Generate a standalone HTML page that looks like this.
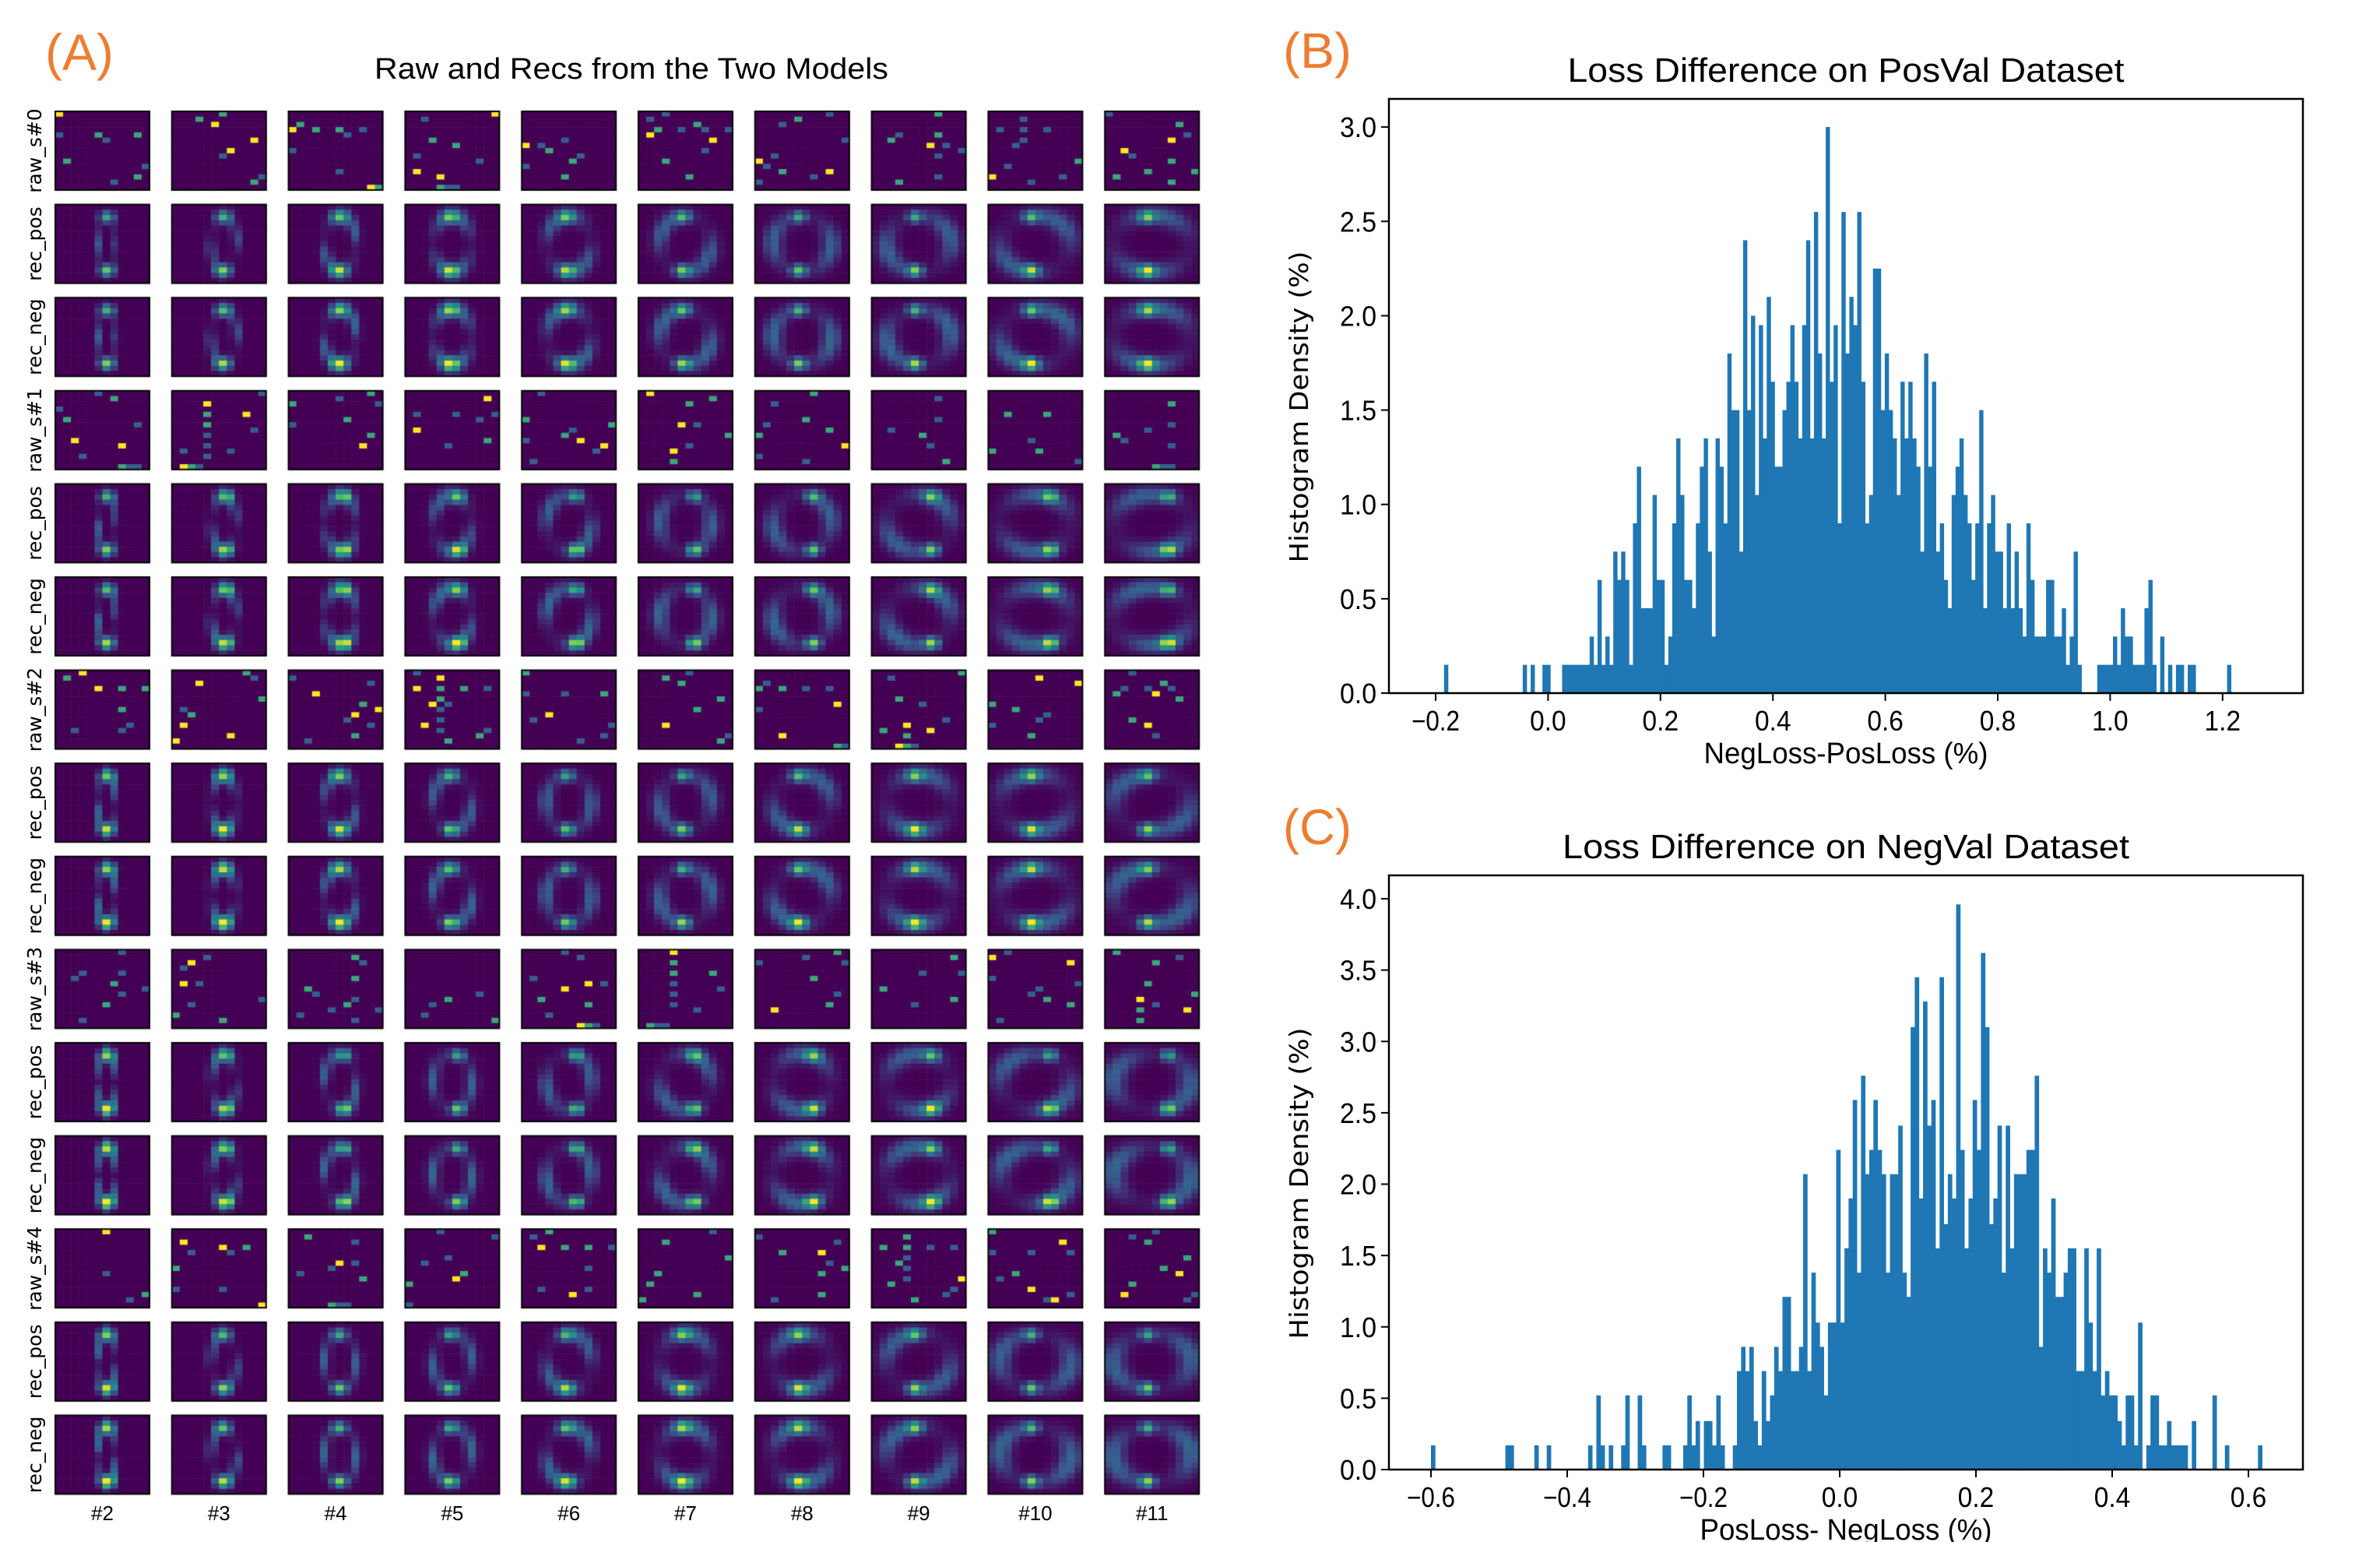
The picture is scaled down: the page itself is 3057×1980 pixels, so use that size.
<!DOCTYPE html>
<html><head><meta charset="utf-8">
<style>
html,body{margin:0;padding:0;background:#fff;}
#root{position:relative;width:3057px;height:1980px;overflow:hidden;font-family:"Liberation Sans",sans-serif;}
.t{position:absolute;white-space:nowrap;}
</style></head>
<body>
<div id="root">
<canvas id="grid" width="3057" height="1980" style="position:absolute;left:0;top:0"></canvas>
<svg id="svg" width="3057" height="1980" style="position:absolute;left:0;top:0" xmlns="http://www.w3.org/2000/svg"></svg>
</div>
<script>
// ---------- Histogram data ----------
const binStartB = -0.185;
const binWidthB = 0.007;
const densB = [
.15,0,0,0,0,0,0,0,0,0,
0,0,0,0,0,0,0,0,0,0,
.15,0,.15,0,0,.15,.15,0,0,0,
.15,.15,.15,.15,.15,.15,.15,.3,.15,.6,
.15,.3,.15,.75,.6,.75,.6,.15,.9,1.2,
.45,.45,.45,1.05,.6,.6,.15,.3,.9,1.35,
1.05,.6,.6,.45,.9,1.2,1.35,.75,.3,1.35,
1.2,.9,1.8,1.5,1.5,.75,2.4,1.5,2,1.05,
1.95,1.35,2.1,1.65,1.2,1.2,1.5,1.65,1.95,1.65,
1.35,1.95,2.4,1.35,2.55,1.8,1.35,3,1.65,1.95,
.9,2.55,1.8,2.1,1.95,2.55,1.65,.9,1.05,2.25,
2.25,1.5,1.8,1.5,1.35,1.05,1.65,1.35,1.65,1.35,
1.2,.75,1.8,1.2,1.65,.75,.9,.6,.45,1.05,
1.2,1.35,1.05,.9,.6,.9,1.5,.45,.9,1.05,
.75,.75,.45,.9,.45,.75,.45,.3,.9,.6,
.3,.3,.3,.6,.6,.3,.3,.45,.15,.3,
.75,.15,0,0,0,0,.15,.15,.15,.15,
.3,.15,.45,.3,.3,.15,.15,.15,.45,.6,
.15,0,.3,0,.15,0,.15,.15,0,.15,
.15,0,0,0,0,0,0,0,0,.15];
const xTicksB = [-0.2,0.0,0.2,0.4,0.6,0.8,1.0,1.2];
const yTicksB = [0.0,0.5,1.0,1.5,2.0,2.5,3.0];

const binStartC = -0.6;
const binWidthC = 0.00607;
const densC = [
.17,0,0,0,0,0,0,0,0,0,
0,0,0,0,0,0,0,0,.17,.17,
0,0,0,0,0,.17,0,0,.17,0,
0,0,0,0,0,0,0,0,.17,0,
.52,.17,0,.17,0,0,.17,.52,0,0,
.52,.17,0,0,0,0,.17,.17,0,0,
0,.17,.52,.17,.34,0,.34,.34,.17,.52,
.17,0,0,.17,.69,.86,.69,.86,.34,.17,
.69,.34,.52,.86,.69,1.21,1.21,.69,.69,.86,
2.07,.69,1.38,1.03,.86,.52,1.03,1.03,2.24,1.03,
1.55,1.9,2.59,1.38,2.76,2.07,2.24,2.59,2.24,2.07,
1.38,2.07,2.07,2.41,1.38,1.21,3.1,3.45,1.9,3.28,
2.41,2.59,1.55,3.45,1.72,2.07,1.9,3.96,2.24,1.55,
1.9,2.59,2.24,3.62,3.1,1.72,1.9,2.41,1.38,2.41,
1.55,2.07,2.07,2.07,2.24,2.24,2.76,.86,1.55,1.38,
1.9,1.21,1.21,1.38,1.55,1.55,.69,.69,1.55,1.03,
.69,1.55,.52,.69,.52,.52,.34,.17,.52,.52,
.17,1.03,0,.17,.52,.52,.17,.17,.34,.17,
.17,.17,.17,0,.34,0,0,0,0,.52,
0,0,.17,0,0,0,0,0,0,0,
.17];
const xTicksC = [-0.6,-0.4,-0.2,0.0,0.2,0.4,0.6];
const yTicksC = [0.0,0.5,1.0,1.5,2.0,2.5,3.0,3.5,4.0];

// ---------- Grid labels ----------
const rowLabels = ["raw_s#0","rec_pos","rec_neg","raw_s#1","rec_pos","rec_neg","raw_s#2","rec_pos","rec_neg","raw_s#3","rec_pos","rec_neg","raw_s#4","rec_pos","rec_neg"];
const colLabels = ["#2","#3","#4","#5","#6","#7","#8","#9","#10","#11"];

const NS = "http://www.w3.org/2000/svg";
const svg = document.getElementById('svg');
const root = document.getElementById('root');
function mk(tag, attrs, parent){const e=document.createElementNS(NS,tag);for(const k in attrs)e.setAttribute(k,attrs[k]);(parent||svg).appendChild(e);return e;}
function fmt(v){return (v<0?"\u2212":"")+Math.abs(v).toFixed(1);}
const FF = '"Liberation Sans",sans-serif';

function drawHist(cfg){
  const g = mk('g',{});
  
  
  const X = v => cfg.x0px + (v - cfg.x0v) * cfg.xs;
  const Y = v => cfg.y0px - v * cfg.ys;
  cfg.dens.forEach((d,i)=>{
    if(d<=0) return;
    const a = X(cfg.binStart + i*cfg.binWidth), b = X(cfg.binStart + (i+1)*cfg.binWidth);
    const r = mk('rect',{x:a,y:Y(d),width:(b-a)+0.4,height:cfg.y0px-Y(d),fill:'#1f77b4'},g);
    
    
  });
  const fr = mk('rect',{x:cfg.L,y:cfg.T,width:cfg.R-cfg.L,height:cfg.B-cfg.T,fill:'none',stroke:'#000','stroke-width':2.5},g);
  
  
  cfg.xt.forEach(v=>{
    const x = X(v);
    mk('line',{x1:x,x2:x,y1:cfg.B,y2:cfg.B+10,stroke:'#000','stroke-width':2},g);
    const s = fmt(v);
    const t = mk('text',{x:x,y:cfg.B+48,'text-anchor':'middle','font-size':36,'font-family':FF,textLength:(s.length*15.5),lengthAdjust:'spacingAndGlyphs'},g);
    t.textContent = s;
    
    
  });
  cfg.yt.forEach(v=>{
    const y = Y(v);
    mk('line',{x1:cfg.L-10,x2:cfg.L,y1:y,y2:y,stroke:'#000','stroke-width':2},g);
    const t = mk('text',{x:cfg.L-16,y:y+13,'text-anchor':'end','font-size':36,'font-family':FF,textLength:47,lengthAdjust:'spacingAndGlyphs'},g);
    t.textContent = v.toFixed(1);
    
    
  });
  const tt = mk('text',{x:(cfg.L+cfg.R)/2,y:cfg.T-22,'text-anchor':'middle','font-size':44,'font-family':FF,textLength:cfg.titleW,lengthAdjust:'spacingAndGlyphs'},g);
  tt.textContent = cfg.title;
  
  
  const xl = mk('text',{x:(cfg.L+cfg.R)/2,y:cfg.B+90,'text-anchor':'middle','font-size':38,'font-family':FF,textLength:cfg.xlW,lengthAdjust:'spacingAndGlyphs'},g);
  xl.textContent = cfg.xlabel;
  
  
  const yl = mk('text',{x:0,y:0,'text-anchor':'middle','font-size':33,'font-family':'"DejaVu Sans",sans-serif',textLength:400,lengthAdjust:'spacingAndGlyphs',transform:`translate(1680,${(cfg.T+cfg.B)/2+14}) rotate(-90)`},g);
  yl.textContent = 'Histogram Density (%)';
  
  
  const pl = mk('text',{x:1648,y:cfg.T-40,'font-size':64,fill:'#ed7d31','font-family':FF,textLength:88,lengthAdjust:'spacingAndGlyphs'},g);
  pl.textContent = cfg.panel;
  
  
}

drawHist({name:'histogram-posval',dens:densB,binStart:binStartB,binWidth:binWidthB,xt:xTicksB,yt:yTicksB,
  L:1784,R:2958,T:127,B:890,x0v:-0.2,x0px:1844,xs:722,y0px:890,ys:242.3,titleW:715,xlW:365,
  title:'Loss Difference on PosVal Dataset',xlabel:'NegLoss-PosLoss (%)',panel:'(B)'});
drawHist({name:'histogram-negval',dens:densC,binStart:binStartC,binWidth:binWidthC,xt:xTicksC,yt:yTicksC,
  L:1784,R:2958,T:1124,B:1887,x0v:-0.6,x0px:1838,xs:875,y0px:1887,ys:183.25,titleW:728,xlW:375,
  title:'Loss Difference on NegVal Dataset',xlabel:'PosLoss- NegLoss (%)',panel:'(C)'});

// ---------- Panel A texts ----------
const pa = mk('text',{x:58,y:90,'font-size':66,fill:'#ed7d31','font-family':FF,textLength:88,lengthAdjust:'spacingAndGlyphs'});
pa.textContent='(A)';


const ga = mk('text',{x:811,y:101,'text-anchor':'middle','font-size':38,'font-family':FF,textLength:660,lengthAdjust:'spacingAndGlyphs'});
ga.textContent='Raw and Recs from the Two Models';



const colX = c => 71 + c*149.8, rowY = r => 143 + r*119.6, CW = 121, CH = 101;
rowLabels.forEach((l,r)=>{
  const t = mk('text',{x:0,y:0,'text-anchor':'middle','font-size':25,'font-family':'"DejaVu Sans",sans-serif',transform:`translate(53,${rowY(r)+CH/2}) rotate(-90)`});
  t.textContent = l;
  
  
});
colLabels.forEach((l,c)=>{
  const t = mk('text',{x:colX(c)+CW/2,y:1952,'text-anchor':'middle','font-size':26,'font-family':FF});
  t.textContent = l;
  
  
});

// ---------- Heatmap images ----------
const ctx = document.getElementById('grid').getContext('2d');
const stops=[[0,[68,1,84]],[0.25,[59,82,139]],[0.5,[33,145,140]],[0.75,[94,201,98]],[1,[253,231,37]]];
function vir(v){v=Math.max(0,Math.min(1,v));for(let k=1;k<stops.length;k++){if(v<=stops[k][0]){const a=stops[k-1],b=stops[k],t=(v-a[0])/(b[0]-a[0]);return `rgb(${a[1].map((x,i)=>Math.round(x+(b[1][i]-x)*t)).join(',')})`;}}return 'rgb(253,231,37)';}
const NX=12, NY=15;
function val(r,c,i,j){
  const type = r%3, s=Math.floor(r/3);
  const u=(i+0.5)/NX*2-1, v=(j+0.5)/NY*2-1;
  if(type===0){
    const h=(i*17+j*29+c*13+s*31+i*j*7)%113;
    if(h===0) return 1; if(h===1||h===2) return 0.6; if(h<6) return 0.3;
    return 0;
  }
  const rx=0.2+0.07*c, ry=0.72;
  const cx = c<3 ? 0.1 : 0;
  const d=Math.sqrt(((u-cx)/rx)**2+(v/ry)**2);
  let w=0.26*Math.exp(-((d-1)**2)/0.1);
  const ang=Math.atan2(v,u-cx);
  w*=0.7+0.5*Math.cos(ang*2+s+c);
  const hx=cx+(s%2?0.35:-0.1)*(c/9);
  w+=0.7*Math.exp(-(((u-hx)**2)/0.025+((v-0.68)**2)/0.02));
  w+=0.55*Math.exp(-(((u-hx)**2)/0.025+((v+0.68)**2)/0.02));
  if(type===2) w*=1.08;
  return w;
}
for(let r=0;r<15;r++)for(let c=0;c<10;c++){
  const x0=colX(c), y0=rowY(r), pw=CW/NX, ph=CH/NY;
  for(let j=0;j<NY;j++)for(let i=0;i<NX;i++){
    ctx.fillStyle=vir(val(r,c,i,j));
    ctx.fillRect(x0+i*pw,y0+j*ph,pw+0.6,ph+0.6);
  }
  ctx.strokeStyle='#000';ctx.lineWidth=2;ctx.strokeRect(x0,y0,CW,CH);
}
</script>
</body></html>
